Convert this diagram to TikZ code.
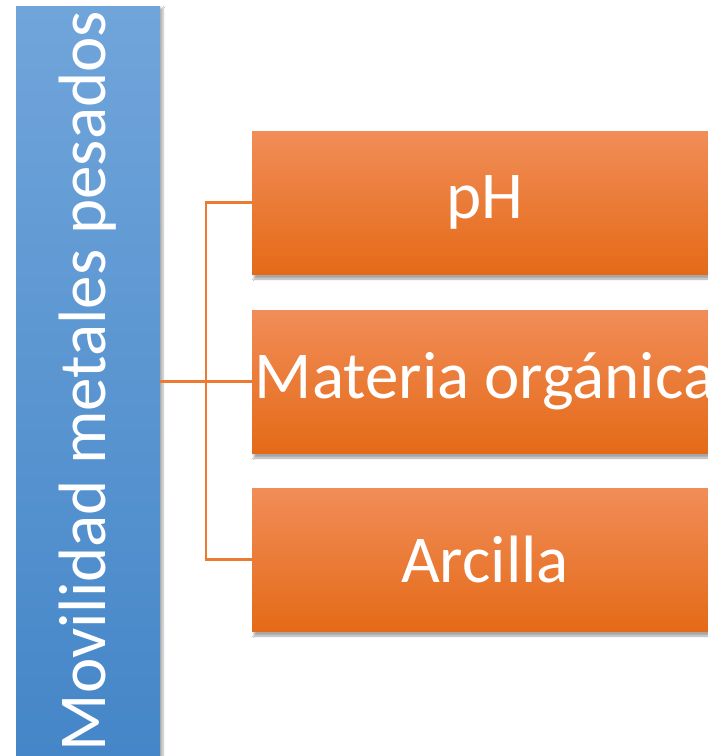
\documentclass[tikz,border=0pt]{standalone}
\usepackage{fontspec}
\setmainfont{Carlito}
\usetikzlibrary{shadows.blur}
\definecolor{bluetop}{HTML}{70A5DA}
\definecolor{bluebot}{HTML}{4586C8}
\definecolor{ortop}{HTML}{F18D58}
\definecolor{ormid}{HTML}{F47F2B}
\definecolor{orbot}{HTML}{E46A17}
\definecolor{conn}{HTML}{EC7A30}
\tikzset{
  barbox/.style={rectangle, inner sep=0pt, minimum width=144pt, minimum height=750pt,
    top color=bluetop, bottom color=bluebot, text=white,
    blur shadow={shadow xshift=3pt, shadow yshift=-2pt, shadow blur steps=6, shadow opacity=30}},
  itembox/.style={rectangle, inner sep=0pt, minimum width=466pt, minimum height=143pt,
    top color=ortop, middle color=ormid, bottom color=orbot, text=white,
    font=\fontsize{67}{80}\selectfont,
    blur shadow={shadow xshift=2pt, shadow yshift=-5pt, shadow blur steps=6, shadow opacity=35}},
  link/.style={draw=conn, line width=2.3pt}
}
\begin{document}
\begin{tikzpicture}[x=1pt,y=-1pt]
\clip (0,0) rectangle (708,756);
\fill[white] (0,0) rectangle (708,756);
\node[barbox] (bar) at (88,381) {\rotatebox{90}{\fontsize{67}{80}\selectfont Movilidad metales pesados}};
\node[itembox] (p) at (485,202.5) {pH};
\node[itembox] (m) at (485,381.5) {Materia orgánica};
\node[itembox] (a) at (485,559.5) {Arcilla};
\coordinate (j) at (206,381.5);
\draw[link] (bar.east |- m.west) -- (m.west);
\draw[link] (p.west) -| (j) |- (a.west);
\end{tikzpicture}
\end{document}
